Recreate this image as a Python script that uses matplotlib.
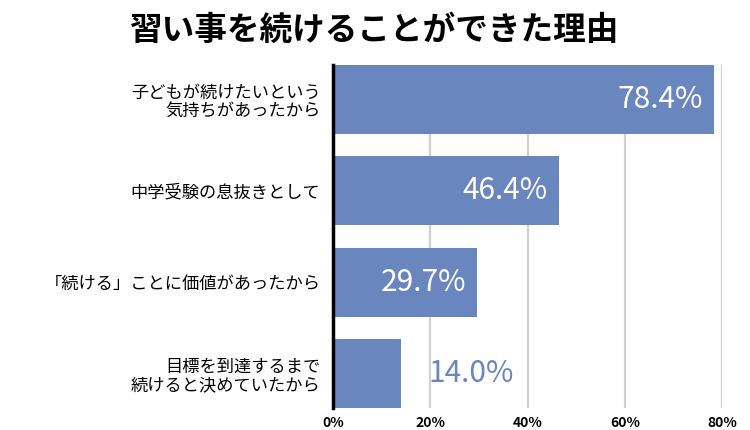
import matplotlib
matplotlib.use("Agg")
import matplotlib.pyplot as plt

plt.rcParams['font.family'] = ['Noto Sans CJK JP', 'DejaVu Sans']

title = "習い事を続けることができた理由"
categories = [
    "子どもが続けたいという\n気持ちがあったから",
    "中学受験の息抜きとして",
    "「続ける」ことに価値があったから",
    "目標を到達するまで\n続けると決めていたから",
]
values = [78.4, 46.4, 29.7, 14.0]
xticks = [0, 20, 40, 60, 80]

bar_color = "#6a86be"

fig = plt.figure(figsize=(7.5, 4.3), dpi=100)
ax = fig.add_axes([333 / 750, 1 - 408 / 430, 389 / 750, 343 / 430])

pos = list(range(len(values)))
ax.barh(pos, values, height=0.757, color=bar_color, zorder=2)
ax.set_ylim(3.38, -0.38)
ax.set_xlim(0, 80)

ax.set_xticks(xticks)
ax.set_xticklabels([f"{t}%" for t in xticks], fontsize=10, fontweight="bold")
ax.set_yticks(pos)
ax.set_yticklabels(categories, fontsize=12.4, linespacing=1.1, ha="right")
ax.tick_params(axis="y", length=0, pad=9)
ax.tick_params(axis="x", length=0, pad=6)

ax.grid(axis="x", color="#d0d0d0", linewidth=1.6, zorder=1)
for s in ["top", "right", "bottom"]:
    ax.spines[s].set_visible(False)
ax.spines["left"].set_linewidth(2.5)
ax.spines["left"].set_color("black")
ax.spines["left"].set_zorder(3)

for p, v in zip(pos, values):
    if v > 20:
        ax.annotate(f"{v:.1f}%", (v, p), xytext=(-8, 0), textcoords="offset points",
                    ha="right", va="center", color="white", fontsize=21.5, zorder=4)
    else:
        ax.annotate(f"{v:.1f}%", (v, p), xytext=(20, 0), textcoords="offset points",
                    ha="left", va="center", color=bar_color, fontsize=21.5, zorder=4)

fig.text(0.5, 1 - 30 / 430, title, ha="center", va="center", fontsize=23.5, fontweight="bold")

fig.savefig("out.png", dpi=100)
